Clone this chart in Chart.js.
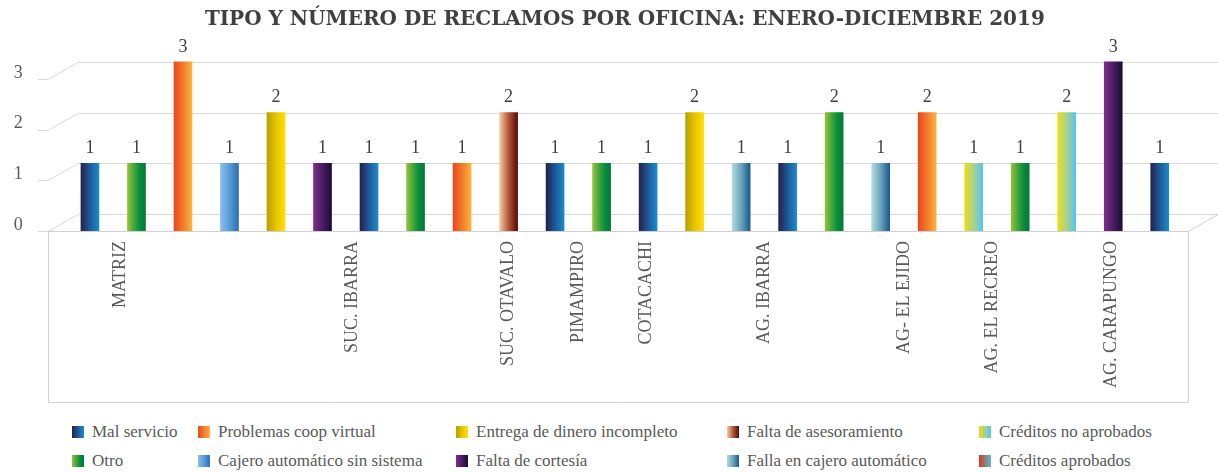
<!DOCTYPE html>
<html>
<head>
<meta charset="utf-8">
<script src="https://cdn.jsdelivr.net/npm/chart.js@4/dist/chart.umd.min.js"></script>
<style>
  html, body { margin: 0; padding: 0; background: #fff; }
  #wrap { position: relative; width: 1218px; height: 472px; overflow: hidden; }
  #grafico { position: absolute; left: 0; top: 0; }
  #leyenda {
    position: absolute; left: 72px; top: 417px;
    display: grid;
    grid-template-columns: 126px 258px 271px 252px 239px;
    grid-auto-flow: column;
    grid-template-rows: 29px 29px;
    font-family: "Liberation Serif", "Times New Roman", serif;
    font-size: 17px; color: #595959;
  }
  .item { display: flex; align-items: center; white-space: nowrap; }
  .caja { width: 12px; height: 12px; margin-right: 8px; flex: none; }
</style>
</head>
<body>
<div id="wrap">
  <canvas id="grafico" width="1218" height="410"></canvas>
  <div id="leyenda"></div>
</div>
<script>
// Oficinas (etiquetas del eje X) y su posición en la fila de barras
const oficinas = ['MATRIZ', 'SUC. IBARRA', 'SUC. OTAVALO', 'PIMAMPIRO', 'COTACACHI',
    'AG. IBARRA', 'AG- EL EJIDO', 'AG. EL RECREO', 'AG. CARAPUNGO'];
const oficinasPos = [0.65, 5.65, 9.0, 10.5, 11.95, 14.5, 17.5, 19.4, 21.95];

// Tipos de reclamo (series)
const tipos = ['Mal servicio', 'Otro', 'Problemas coop virtual', 'Cajero automático sin sistema',
    'Entrega de dinero incompleto', 'Falta de cortesía', 'Falta de asesoramiento',
    'Falla en cajero automático', 'Créditos no aprobados', 'Créditos aprobados'];

// Colores del degradado de cada tipo (izquierda -> derecha)
const coloresTipo = [
    ['#24224f', '#1f5896', '#1b8ccd'],
    ['#94c23a', '#4aa83a', '#0a8e3e', '#007a38'],
    ['#e8481e', '#f47a2c', '#fab43e'],
    ['#86bfea', '#5a9ad6', '#2a70b6'],
    ['#b9a000', '#e6c400', '#ffdf00'],
    ['#7c2f8a', '#4a1c62', '#1a0c38'],
    ['#f8caa6', '#b0583a', '#5a0600'],
    ['#b0dcde', '#6ea2bc', '#155a8e'],
    ['#ecdd14', '#a8d290', '#55c3f0'],
    ['#d63c14', '#9a7a76', '#5ab8d6']
];

// Una barra por fila: tipo de reclamo y número de reclamos
const barrasTipo  = [0, 1, 2, 3, 4, 5, 0, 1, 2, 6, 0, 1, 0, 4, 7, 0, 1, 7, 2, 8, 1, 8, 5, 0];
const barrasValor = [1, 1, 3, 1, 2, 1, 1, 1, 1, 2, 1, 1, 1, 2, 1, 1, 2, 1, 2, 1, 1, 2, 3, 1];

const yTicks = [0, 1, 2, 3];

const filas = barrasValor.map((v, i) => String(i));

/**
 * Degradado horizontal para una barra
 */
function degradado(chart, stops, x, w) {
    const g = chart.ctx.createLinearGradient(x - w / 2, 0, x + w / 2, 0);
    stops.forEach((c, k) => g.addColorStop(k / (stops.length - 1), c));
    return g;
}

const datasets = tipos.map((nombre, t) => ({
    label: nombre,
    data: barrasValor.map((v, i) => barrasTipo[i] === t ? v : null),
    backgroundColor: function(ctx) {
        const chart = ctx.chart;
        if (ctx.type !== 'data' || !chart.chartArea) return coloresTipo[t][0];
        const x = chart.scales.x.getPixelForValue(ctx.dataIndex);
        return degradado(chart, coloresTipo[t], x, 18);
    },
    borderWidth: 0,
    barThickness: 18,
    grouped: false,
    base: -1 / 3
}));

// Paredes y líneas de cuadrícula en "3D"
const marco3D = {
    id: 'marco3D',
    beforeDatasetsDraw(chart) {
        const c = chart.ctx;
        const y = chart.scales.y;
        const dx = 30, dy = 17;
        const xf = 48, xfR = 1188, xb = xf + dx, xbR = xfR + dx;
        c.save();
        c.strokeStyle = '#d9d9d9';
        c.lineWidth = 1;
        yTicks.forEach(v => {
            const yb = Math.round(y.getPixelForValue(v)) + 0.5;
            const yf = yb + dy;
            c.beginPath();
            c.moveTo(xf - 10, yf);
            c.lineTo(xf, yf);
            c.lineTo(xb, yb);
            c.lineTo(xbR, yb);
            c.stroke();
        });
        const y0b = Math.round(y.getPixelForValue(0)) + 0.5;
        const y0f = y0b + dy;
        c.strokeStyle = '#d0d0d0';
        c.beginPath();
        c.moveTo(xf, y0f);
        c.lineTo(xfR, y0f);
        c.lineTo(xbR, y0b);
        c.stroke();
        c.beginPath();
        c.moveTo(xf + 0.5, y0f);
        c.lineTo(xf + 0.5, 402.5);
        c.lineTo(xfR + 0.5, 402.5);
        c.lineTo(xfR + 0.5, y0f);
        c.stroke();
        c.restore();
    },
    afterDatasetsDraw(chart) {
        const c = chart.ctx;
        c.save();
        c.font = '18px "Liberation Serif", serif';
        c.fillStyle = '#404040';
        c.textAlign = 'center';
        c.textBaseline = 'middle';
        chart.data.datasets.forEach((ds, d) => {
            chart.getDatasetMeta(d).data.forEach((bar, i) => {
                if (ds.data[i] == null) return;
                c.fillText(ds.data[i], bar.x, bar.y - 15);
            });
        });
        c.restore();
    }
};

new Chart(document.getElementById('grafico'), {
    type: 'bar',
    data: { labels: filas, datasets: datasets },
    options: {
        responsive: false,
        animation: false,
        layout: { padding: { left: 0, right: 35, top: 0, bottom: 0 } },
        plugins: {
            legend: { display: false },
            tooltip: { enabled: false },
            title: {
                display: true,
                fullSize: false,
                text: 'TIPO Y NÚMERO DE RECLAMOS POR OFICINA: ENERO-DICIEMBRE 2019',
                color: '#404040',
                font: { family: '"DejaVu Serif", serif', size: 20, weight: 'bold', lineHeight: 1.2 },
                padding: { top: 8, bottom: 14.7 }
            }
        },
        scales: {
            x: { display: false, stacked: false },
            x2: {
                type: 'linear',
                position: 'bottom',
                offset: false,
                min: -0.5,
                max: 23.5,
                grid: { display: false, drawTicks: false, offset: false },
                border: { display: false },
                afterBuildTicks: axis => { axis.ticks = oficinasPos.map(v => ({ value: v })); },
                afterFit: axis => { axis.height = 179; },
                ticks: {
                    autoSkip: false,
                    minRotation: 90,
                    maxRotation: 90,
                    padding: 10,
                    color: '#595959',
                    font: { family: '"Liberation Serif", serif', size: 18 },
                    callback: (value, index) => oficinas[index]
                }
            },
            y: {
                min: -1 / 3,
                max: 3.3,
                grid: { display: false, drawTicks: false },
                border: { display: false },
                afterBuildTicks: axis => { axis.ticks = yTicks.map(v => ({ value: v })); },
                afterFit: axis => {
                    axis.width = 66.7;
                    axis.paddingTop = 0;
                    axis.paddingBottom = 0;
                },
                ticks: {
                    padding: 44,
                    labelOffset: 11,
                    color: '#595959',
                    font: { family: '"Liberation Serif", serif', size: 18 }
                }
            }
        }
    },
    plugins: [marco3D]
});

// Leyenda en HTML (columnas como en el original)
const leyenda = document.getElementById('leyenda');
tipos.forEach((nombre, t) => {
    const item = document.createElement('div');
    item.className = 'item';
    const caja = document.createElement('span');
    caja.className = 'caja';
    caja.style.background = 'linear-gradient(to right, ' + coloresTipo[t].join(', ') + ')';
    item.appendChild(caja);
    item.appendChild(document.createTextNode(nombre));
    leyenda.appendChild(item);
});
</script>
</body>
</html>
